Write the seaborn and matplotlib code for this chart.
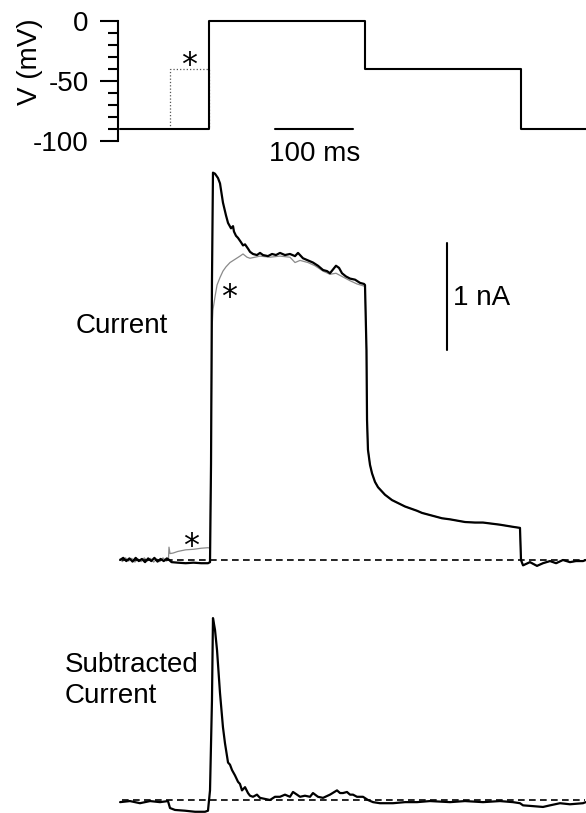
import pandas as pd
import matplotlib
matplotlib.use("Agg")
import matplotlib.pyplot as plt
import seaborn as sns

# Voltage protocol (ms, mV)
step_t = [-114, 0, 0, 200, 200, 400, 400, 483]
step_v = [-90, -90, 0, 0, -40, -40, -90, -90]
pre_t = [-50, -50, 0, 0]
pre_v = [-90, -40, -40, -90]

# Current without prepulse (ms, nA)
cur_t = [-114, -110, -106, -102, -98, -94, -90, -86, -82, -78, -74, -70, -66, -62, -58, -54, -51,
         -48, -40, -30, -20, -10, -1.3, 1.3, 2.6, 3.8, 5.1,
         7.7, 11.5, 14.1, 17.9, 21.8, 24.4, 28.2, 30.8, 32.0, 34.6, 37.2, 41.0, 43.6, 46.2, 50.0,
         52.6, 56.4, 61.5, 65.4, 69.2, 75.6, 80.8, 85.9, 91.0, 97.4, 103.8, 110.3, 114.1, 120.5,
         126.9, 133.3, 139.7, 146.2, 151.3, 155.1, 162.8, 166.7, 170.5, 175.6, 180.8, 187.2,
         193.6, 198.7, 200.0,
         201.9, 202.6, 203.8, 206.4, 209.0, 212.8, 216.7, 225.6, 234.6, 251.3, 266.7, 273.1,
         283.3, 298.7, 309.0, 328.2, 341.0, 351.3, 373.0, 389.7, 398.7, 400.0,
         402.6, 411.5, 420.5, 428.2, 437.2, 445.0, 453.8, 462.8, 470.5, 479.5, 483.0]
cur_i = [0.0, 0.02, -0.01, 0.015, -0.015, 0.02, -0.01, 0.01, -0.02, 0.015, -0.01, 0.02, -0.015, 0.01, -0.01, 0.015, 0.0,
         -0.02, -0.025, -0.03, -0.025, -0.03, -0.03, -0.02, 0.9, 2.6, 3.62,
         3.61, 3.57, 3.52, 3.34, 3.22, 3.15, 3.10, 3.12, 3.07, 3.03, 3.01, 2.97, 2.94, 2.95, 2.91,
         2.88, 2.86, 2.85, 2.87, 2.85, 2.84, 2.86, 2.85, 2.87, 2.85, 2.86, 2.84, 2.87, 2.82,
         2.80, 2.78, 2.75, 2.71, 2.70, 2.68, 2.75, 2.73, 2.68, 2.65, 2.63, 2.62,
         2.59, 2.58, 2.57,
         1.96, 1.31, 1.03, 0.89, 0.81, 0.73, 0.68, 0.61, 0.56, 0.50, 0.46, 0.44,
         0.42, 0.39, 0.38, 0.355, 0.35, 0.35, 0.33, 0.31, 0.30, 0.0,
         -0.05, -0.02, -0.055, -0.03, -0.01, -0.03, 0.0, -0.02, -0.01, -0.01, 0.0]

# Current after the -40 mV prepulse (ms, nA), up to the end of the 0 mV step
pre_cur_t = [-114, -111, -107, -103, -99, -95, -91, -87, -83, -79, -75, -71, -67, -63, -59, -55, -52,
             -51.3, -50, -46, -40, -30, -20, -10, -1.3, 1.3, 2.6, 3.8, 5.1, 7.7, 10.3, 14.1, 17.9,
             21.8, 26.9, 33.3, 39.7, 43.6, 48.7, 52.6, 59.0, 65.4, 78.2, 91.0, 103.8, 110.3,
             116.7, 126.9, 135.9, 146.2, 155.1, 162.8, 170.5, 180.8, 189.7, 198.7, 200.0]
pre_cur_i = [0.01, -0.015, 0.02, -0.01, 0.015, -0.02, 0.01, -0.015, 0.02, -0.01, 0.015, -0.02, 0.01, -0.015, 0.02, -0.01, 0.0,
             0.12, 0.06, 0.065, 0.08, 0.095, 0.10, 0.11, 0.115, 0.11, 1.03, 2.15, 2.34, 2.46, 2.57, 2.64, 2.70,
             2.74, 2.78, 2.81, 2.84, 2.86, 2.83, 2.82, 2.83, 2.84, 2.83, 2.84, 2.83, 2.78,
             2.80, 2.78, 2.75, 2.70, 2.67, 2.68, 2.65, 2.61, 2.58, 2.56, 2.56]

# Subtracted current (ms, nA)
sub_t = [-114, -101.3, -88.5, -75.6, -62.8, -52.6, -50, -43.6, -30.8, -17.9, -5.1, -1.3,
         1.3, 3.8, 5.1, 7.7, 10.3, 14.1, 17.9, 20.5, 24.4, 26.9, 29.5, 33.3, 37.2, 39.7, 42.3,
         46.2, 50.0, 52.6, 56.4, 61.5, 65.4, 71.8, 78.2, 84.6, 91.0, 97.4, 103.8, 107.7, 112.8,
         116.7, 123.0, 129.5, 133.3, 139.7, 146.2, 155.1, 164.1, 168.0, 171.8, 176.9, 180.8,
         184.6, 189.7, 197.4, 203.8, 210.3, 219.2, 235.9, 251.3, 266.7, 283.3, 309.0, 328.2,
         351.3, 373.0, 389.7, 398.7, 402.6, 411.5, 428.2, 437.2, 450.0, 462.8, 479.5, 483.0]
sub_i = [-0.02, -0.01, -0.03, -0.01, -0.02, -0.01, -0.075, -0.093, -0.10, -0.11, -0.11, -0.10,
         0.09, 0.93, 1.70, 1.59, 1.40, 1.00, 0.68, 0.53, 0.35, 0.33, 0.28, 0.23, 0.17, 0.15, 0.09,
         0.12, 0.065, 0.04, 0.03, 0.05, 0.02, 0.01, 0.0, 0.03, 0.03, 0.05, 0.03, 0.075, 0.05,
         0.03, 0.04, 0.03, 0.065, 0.03, 0.02, 0.05, 0.09, 0.065, 0.065, 0.075, 0.05,
         0.05, 0.03, 0.03, 0.0, -0.02, -0.03, -0.03, -0.02, -0.02, -0.01, -0.02, -0.01,
         -0.02, -0.01, -0.02, -0.03, -0.05, -0.055, -0.065, -0.05, -0.03, -0.04, -0.03, -0.02]

# Scale bars
time_bar = [85, 185]      # ms
amp_bar = [1.96, 2.96]    # nA

sns.set_theme(style="white")
plt.rcParams["font.family"] = ["Liberation Sans", "DejaVu Sans"]
plt.rcParams["text.color"] = "black"
plt.rcParams["ytick.color"] = "black"
plt.rcParams["ytick.labelcolor"] = "black"

W, H = 586, 813
T0_PX, PX_MS = 209, 0.78          # pixel of t = 0 and pixels per ms
PX_NA = 107                       # pixels per nA

fig = plt.figure(figsize=(W / 100, H / 100), dpi=100)


def add_panel(top_px, bot_px):
    ax = fig.add_axes([0, 1 - bot_px / H, 1, (bot_px - top_px) / H])
    ax.set_facecolor("none")
    ax.set_xlim(-T0_PX / PX_MS, (W - T0_PX) / PX_MS)
    ax.set_xticks([])
    ax.set_yticks([])
    for s in ax.spines.values():
        s.set_visible(False)
    return ax


ax_v = add_panel(21, 141)
ax_v.set_ylim(-100, 0)
ax_i = add_panel(165, 590)
ax_i.set_ylim((560 - 590) / PX_NA, (560 - 165) / PX_NA)
ax_s = add_panel(600, 813)
ax_s.set_ylim((800 - 813) / PX_NA, (800 - 600) / PX_NA)

star = dict(ha="center", va="baseline", fontsize=23, family="DejaVu Sans")

# Voltage panel
sns.lineplot(x=pre_t, y=pre_v, ax=ax_v, sort=False, estimator=None,
             color="#555555", linewidth=0.9, linestyle=":")
sns.lineplot(x=step_t, y=step_v, ax=ax_v, sort=False, estimator=None,
             color="black", linewidth=1.5)
ax_v.plot(time_bar, [-90, -90], color="black", linewidth=1.5)
ax_v.text(sum(time_bar) / 2, -116.5, "100 ms", ha="center", va="baseline", fontsize=20)
ax_v.text(-25, -44, "*", **star)

ax_v.spines["left"].set_visible(True)
ax_v.spines["left"].set_position(("data", -116.7))
ax_v.spines["left"].set_linewidth(1.5)
ax_v.spines["left"].set_color("black")
ax_v.set_yticks([0, -50, -100])
ax_v.set_yticks(list(range(-90, 0, 10)), minor=True)
ax_v.set_yticklabels(["0", "-50", "-100"])
ax_v.tick_params(axis="y", which="major", direction="out", length=13, width=1.5,
                 labelsize=20, pad=8, left=True, color="black", labelcolor="black")
ax_v.tick_params(axis="y", which="minor", direction="out", length=7, width=1.5,
                 left=True, color="black")
ax_v.text(-229.5, -34, "V (mV)", rotation=90, ha="center", va="center", fontsize=20)

# Current panel
df_pre = pd.DataFrame({"t": pre_cur_t + cur_t[70:], "i": pre_cur_i + cur_i[70:]})
sns.lineplot(data=df_pre, x="t", y="i", ax=ax_i, sort=False, estimator=None,
             color="#8a8a8a", linewidth=0.9)
sns.lineplot(x=cur_t, y=cur_i, ax=ax_i, sort=False, estimator=None,
             color="black", linewidth=1.6)
ax_i.hlines(0, -111.5, 482, colors="black", linewidth=1.2, linestyles=(0, (4, 2.6)))
ax_i.plot([304.5, 304.5], amp_bar, color="black", linewidth=1.5)
ax_i.text(312.8, 2.38, "1 nA", ha="left", va="baseline", fontsize=20)
ax_i.text(-170.5, 2.12, "Current", ha="left", va="baseline", fontsize=20)
ax_i.text(25.6, 2.37, "*", **star)
ax_i.text(-23.5, 0.05, "*", **star)

# Subtracted panel
sns.lineplot(x=sub_t, y=sub_i, ax=ax_s, sort=False, estimator=None,
             color="black", linewidth=1.6)
ax_s.hlines(0, -111.5, 482, colors="black", linewidth=1.2, linestyles=(0, (4, 2.6)))
ax_s.text(-184.6, 1.196, "Subtracted", ha="left", va="baseline", fontsize=20)
ax_s.text(-184.6, 0.907, "Current", ha="left", va="baseline", fontsize=20)

for ax in (ax_v, ax_i, ax_s):
    ax.set_xlabel("")
    ax.set_ylabel("")
    for ln in ax.lines:
        ln.set_clip_on(False)
    if ax.get_legend() is not None:
        ax.get_legend().remove()

fig.savefig("out.png", dpi=100)
